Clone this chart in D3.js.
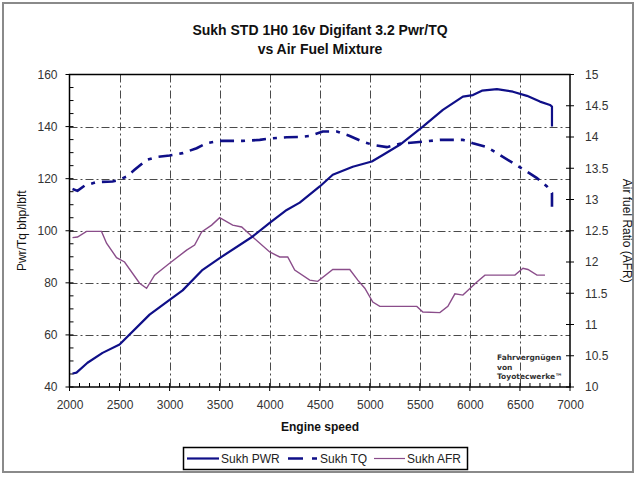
<!DOCTYPE html>
<html>
<head>
<meta charset="utf-8">
<script src="https://cdn.jsdelivr.net/npm/d3@7"></script>
<style>
  body { margin: 0; background: #fff; }
  svg { display: block; font-family: "Liberation Sans", Arial, sans-serif; }
</style>
</head>
<body>
<svg id="chart" width="639" height="478"></svg>
<script>
// Sukh PWR (left axis)
const pwrRpm = [2030, 2070, 2180, 2330, 2500, 2800, 3000, 3130, 3330, 3500, 3830, 4000, 4170, 4300, 4500, 4630, 4830, 5020, 5130, 5300, 5530, 5730, 5930, 6030, 6120, 6270, 6430, 6570, 6700, 6800, 6820, 6820]
const pwrVals = [45.2, 45.5, 49.3, 53.1, 56.3, 67.8, 73.5, 77.1, 85, 89.5, 97.8, 103, 108, 110.8, 117, 121.5, 124.6, 126.6, 129.1, 133, 140, 146.4, 151.5, 152.1, 153.8, 154.4, 153.4, 151.8, 149.6, 148.3, 147.7, 140]

// Sukh TQ (left axis)
const tqRpm = [2030, 2080, 2150, 2270, 2430, 2480, 2570, 2650, 2770, 2870, 3000, 3130, 3270, 3370, 3500, 3730, 3900, 4020, 4170, 4300, 4400, 4530, 4670, 4800, 4930, 5030, 5170, 5300, 5530, 5700, 5930, 6030, 6170, 6300, 6430, 6570, 6670, 6770, 6820, 6820]
const tqVals = [116, 115.3, 117.3, 118.7, 118.9, 119.3, 120.8, 123.4, 127.2, 128.3, 128.9, 129.8, 131.7, 133.6, 134.5, 134.5, 134.9, 135.5, 135.9, 136, 136.4, 138.1, 138.1, 136.4, 134.2, 133, 132.1, 133.4, 134.2, 134.9, 134.9, 133.6, 132.1, 129.1, 126, 122.7, 120.2, 117, 114.5, 108.7]

// Sukh AFR (right axis)
const afrRpm = [2030, 2080, 2170, 2320, 2370, 2470, 2550, 2700, 2770, 2850, 3000, 3170, 3250, 3320, 3420, 3500, 3630, 3720, 3830, 4000, 4100, 4180, 4250, 4400, 4480, 4630, 4800, 4880, 4950, 5030, 5100, 5470, 5530, 5700, 5780, 5850, 5930, 6070, 6150, 6450, 6530, 6580, 6670, 6750]
const afrVals = [12.39, 12.4, 12.49, 12.49, 12.3, 12.07, 12.0, 11.66, 11.58, 11.79, 11.98, 12.19, 12.27, 12.48, 12.59, 12.71, 12.59, 12.56, 12.4, 12.16, 12.08, 12.08, 11.87, 11.71, 11.69, 11.88, 11.88, 11.71, 11.58, 11.36, 11.29, 11.29, 11.2, 11.19, 11.29, 11.49, 11.47, 11.68, 11.79, 11.79, 11.9, 11.88, 11.79, 11.79]

const xTicks = [2000, 2500, 3000, 3500, 4000, 4500, 5000, 5500, 6000, 6500, 7000]
const yLeftTicks = [40, 60, 80, 100, 120, 140, 160]
const yRightTicks = [10, 10.5, 11, 11.5, 12, 12.5, 13, 13.5, 14, 14.5, 15]

const titleLines = ['Sukh STD 1H0 16v Digifant 3.2 Pwr/TQ', 'vs Air Fuel Mixture']
const seriesNames = ['Sukh PWR', 'Sukh TQ', 'Sukh AFR']

const navy = '#0f0f88'
const mauve = '#8a4d8a'
const tqDash = '14,7,4,7'

const svg = d3.select('#chart')

// outer frame
svg.append('rect')
    .attr('x', 3).attr('y', 3).attr('width', 630).attr('height', 469)
    .attr('fill', 'none').attr('stroke', '#8a8a8a').attr('stroke-width', 2)

// plot area
const L = 69.5, R = 570, T = 74.5, B = 387
const x = d3.scaleLinear().domain([2000, 7000]).range([L, R])
const yL = d3.scaleLinear().domain([40, 160]).range([B, T])
const yR = d3.scaleLinear().domain([10, 15]).range([B, T])

// titles
svg.append('g').selectAll('text')
    .data(titleLines)
    .join('text')
        .attr('x', 320).attr('y', (d, i) => 35 + i * 19)
        .attr('text-anchor', 'middle')
        .attr('font-size', 14).attr('font-weight', 'bold').attr('fill', '#111')
        .text(d => d)

// grid lines
const grid = svg.append('g')
    .attr('stroke', '#4a4a4a').attr('stroke-width', 1).attr('stroke-dasharray', '8,3,2,3')
grid.selectAll('.gx')
    .data(xTicks.slice(1, -1))
    .join('line')
        .attr('x1', d => Math.round(x(d)) + 0.5).attr('x2', d => Math.round(x(d)) + 0.5)
        .attr('y1', T).attr('y2', B)
grid.selectAll('.gy')
    .data(yLeftTicks.slice(1, -1))
    .join('line')
        .attr('y1', d => Math.round(yL(d)) + 0.5).attr('y2', d => Math.round(yL(d)) + 0.5)
        .attr('x1', L).attr('x2', R)

// minor ticks
const minor = svg.append('g').attr('stroke', '#000').attr('stroke-width', 1)
minor.selectAll('.mx')
    .data(d3.range(2000, 7001, 100))
    .join('line')
        .attr('x1', d => x(d)).attr('x2', d => x(d))
        .attr('y1', B).attr('y2', d => d % 500 === 0 ? B + 4 : B - 4)
minor.selectAll('.mxu')
    .data(xTicks)
    .join('line')
        .attr('x1', d => x(d)).attr('x2', d => x(d))
        .attr('y1', B).attr('y2', B - 4)
minor.selectAll('.my')
    .data(d3.range(40, 161, 5))
    .join('line')
        .attr('y1', d => yL(d)).attr('y2', d => yL(d))
        .attr('x1', d => d % 20 === 0 ? L - 4 : L).attr('x2', L + 4)
minor.selectAll('.myr')
    .data(yRightTicks)
    .join('line')
        .attr('y1', d => yR(d)).attr('y2', d => yR(d))
        .attr('x1', R - 4).attr('x2', R + 4)

// axis labels via d3 axes
const axisStyle = g => {
    g.select('.domain').remove()
    g.selectAll('.tick line').remove()
    g.selectAll('text').attr('font-size', 12).attr('fill', '#333')
        .attr('font-family', '"Liberation Sans", Arial, sans-serif')
}
svg.append('g')
    .attr('transform', `translate(0,${B})`)
    .call(d3.axisBottom(x).tickValues(xTicks).tickSize(0).tickPadding(13).tickFormat(d3.format('')))
    .call(axisStyle)
svg.append('g')
    .attr('transform', `translate(${L},0)`)
    .call(d3.axisLeft(yL).tickValues(yLeftTicks).tickSize(0).tickPadding(12))
    .call(axisStyle)
svg.append('g')
    .attr('transform', `translate(${R},0)`)
    .call(d3.axisRight(yR).tickValues(yRightTicks).tickSize(0).tickPadding(15).tickFormat(d3.format('')))
    .call(axisStyle)

// axis titles
svg.append('text')
    .attr('x', 320).attr('y', 431).attr('text-anchor', 'middle')
    .attr('font-size', 12).attr('font-weight', 'bold').attr('fill', '#111')
    .text('Engine speed')
svg.append('text')
    .attr('transform', `translate(26,${(T + B) / 2}) rotate(-90)`)
    .attr('text-anchor', 'middle')
    .attr('font-size', 12).attr('fill', '#111')
    .text('Pwr/Tq bhp/lbft')
svg.append('text')
    .attr('transform', `translate(623,${(T + B) / 2}) rotate(90)`)
    .attr('text-anchor', 'middle')
    .attr('font-size', 12).attr('fill', '#111')
    .text('Air fuel Ratio (AFR)')

// plot border
svg.append('rect')
    .attr('x', L).attr('y', T).attr('width', R - L).attr('height', B - T)
    .attr('fill', 'none').attr('stroke', '#000').attr('stroke-width', 1.5)

// watermark
svg.append('g').selectAll('text')
    .data(['Fahrvergnügen', 'von', 'Toyotecwerke™'])
    .join('text')
        .attr('x', 497).attr('y', (d, i) => 360 + i * 9.5)
        .attr('font-family', '"DejaVu Sans", Verdana, sans-serif')
        .attr('font-size', 7.5).attr('font-weight', 'bold').attr('fill', '#333')
        .text(d => d)

// series
const lineL = d3.line().x(d => x(d[0])).y(d => yL(d[1]))
const lineR = d3.line().x(d => x(d[0])).y(d => yR(d[1]))

svg.append('path')
    .datum(d3.zip(afrRpm, afrVals))
    .attr('d', lineR)
    .attr('fill', 'none').attr('stroke', mauve).attr('stroke-width', 1.4)

svg.append('path')
    .datum(d3.zip(tqRpm, tqVals))
    .attr('d', lineL)
    .attr('fill', 'none').attr('stroke', navy).attr('stroke-width', 2.6)
    .attr('stroke-dasharray', tqDash)

svg.append('path')
    .datum(d3.zip(pwrRpm, pwrVals))
    .attr('d', lineL)
    .attr('fill', 'none').attr('stroke', navy).attr('stroke-width', 2.2)
    .attr('stroke-linejoin', 'round')

// legend
const legend = svg.append('g')
legend.append('rect')
    .attr('x', 183.5).attr('y', 447.5).attr('width', 284).attr('height', 22)
    .attr('fill', '#fff').attr('stroke', '#000').attr('stroke-width', 1.5)

const legendItems = [
    { name: seriesNames[0], x0: 187, x1: 219, stroke: navy, w: 2.2, dash: null },
    { name: seriesNames[1], x0: 288, x1: 318, stroke: navy, w: 2.6, dash: '15,9,5,9' },
    { name: seriesNames[2], x0: 374, x1: 405, stroke: mauve, w: 1.2, dash: null }
]
legend.selectAll('line')
    .data(legendItems)
    .join('line')
        .attr('x1', d => d.x0).attr('x2', d => d.x1)
        .attr('y1', 458.5).attr('y2', 458.5)
        .attr('stroke', d => d.stroke).attr('stroke-width', d => d.w)
        .attr('stroke-dasharray', d => d.dash)
legend.selectAll('text')
    .data(legendItems)
    .join('text')
        .attr('x', d => d.x1 + 2).attr('y', 463)
        .attr('font-size', 12).attr('fill', '#222')
        .text(d => d.name)
</script>
</body>
</html>
